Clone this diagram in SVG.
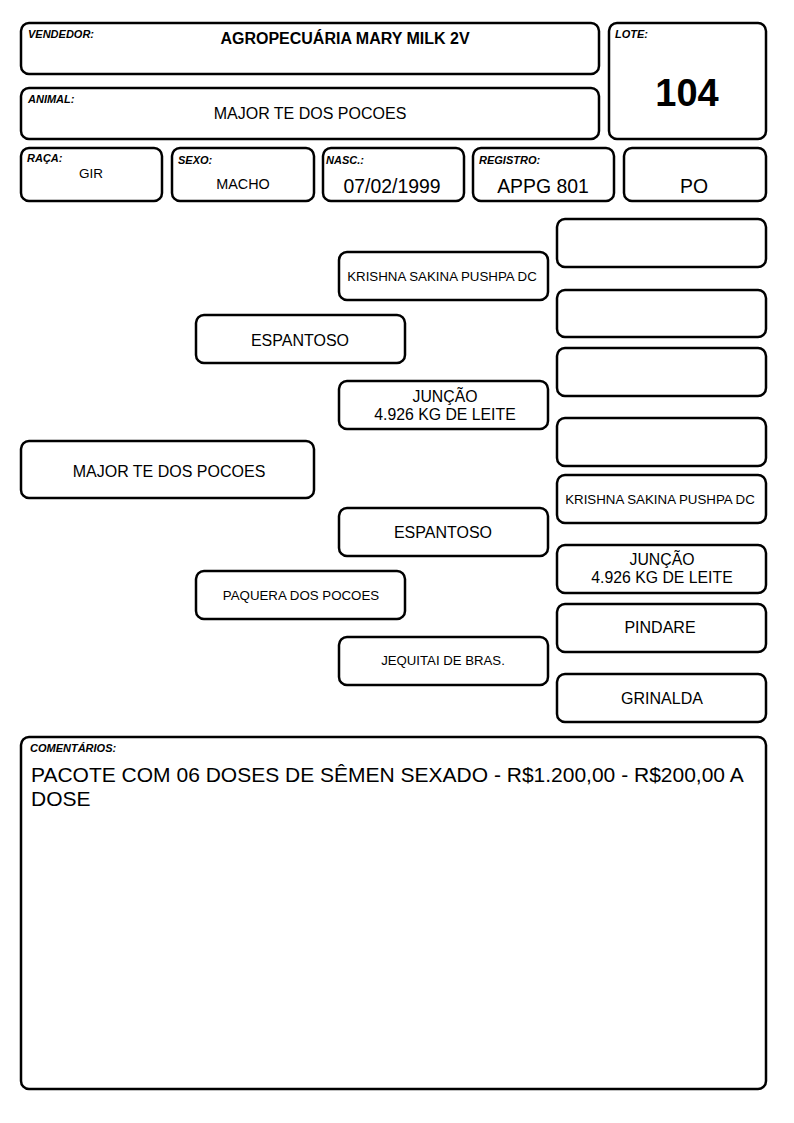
<svg xmlns="http://www.w3.org/2000/svg" width="794" height="1123" viewBox="0 0 794 1123">
<style>
.b{fill:#fff;stroke:#000;stroke-width:2.5}
.lbl{font-family:"Liberation Sans",Arial,sans-serif;font-size:11px;font-weight:bold;font-style:italic;fill:#000}
.v{font-family:"Liberation Sans",Arial,sans-serif;fill:#000;text-anchor:middle}
</style>
<rect width="794" height="1123" fill="#fff"/>
<g id="vendedor"><rect class="b" x="21" y="23" width="578" height="51" rx="8"/><text class="lbl" x="28" y="38">VENDEDOR:</text><text class="v" x="345" y="44" font-size="16" font-weight="bold">AGROPECUÁRIA MARY MILK 2V</text></g>
<g id="animal"><rect class="b" x="21" y="88" width="578" height="51" rx="8"/><text class="lbl" x="28" y="103">ANIMAL:</text><text class="v" x="310" y="119" font-size="16">MAJOR TE DOS POCOES</text></g>
<g id="lote"><rect class="b" x="609" y="23" width="157" height="116" rx="8"/><text class="lbl" x="615" y="38">LOTE:</text><text class="v" x="687" y="106" font-size="38" font-weight="bold">104</text></g>
<g id="raca"><rect class="b" x="21" y="148" width="141" height="53" rx="8"/><text class="lbl" x="27" y="162">RAÇA:</text><text class="v" x="91" y="178" font-size="13.5">GIR</text></g>
<g id="sexo"><rect class="b" x="172" y="148" width="142" height="53" rx="8"/><text class="lbl" x="178" y="164">SEXO:</text><text class="v" x="243" y="189" font-size="14.4">MACHO</text></g>
<g id="nasc"><rect class="b" x="323" y="148" width="141" height="53" rx="8"/><text class="lbl" x="326" y="164">NASC.:</text><text class="v" x="392" y="193" font-size="19.4">07/02/1999</text></g>
<g id="registro"><rect class="b" x="473" y="148" width="141" height="53" rx="8"/><text class="lbl" x="479" y="164">REGISTRO:</text><text class="v" x="543" y="193" font-size="19.4">APPG 801</text></g>
<g id="po"><rect class="b" x="624" y="148" width="142" height="53" rx="8"/><text class="v" x="694" y="193" font-size="19.4">PO</text></g>
<g id="connectors"></g>
<g id="p-major"><rect class="b" x="21" y="441" width="293" height="57" rx="8"/><text class="v" x="169" y="477" font-size="16">MAJOR TE DOS POCOES</text></g>
<g id="p-espantoso1"><rect class="b" x="196" y="315" width="209" height="48" rx="8"/><text class="v" x="300" y="346" font-size="16">ESPANTOSO</text></g>
<g id="p-paquera"><rect class="b" x="196" y="571" width="209" height="48" rx="8"/><text class="v" x="301" y="600" font-size="13.3">PAQUERA DOS POCOES</text></g>
<g id="p-krishna1"><rect class="b" x="339" y="252" width="209" height="48" rx="8"/><text class="v" x="442" y="281" font-size="13.3">KRISHNA SAKINA PUSHPA DC</text></g>
<g id="p-juncao1"><rect class="b" x="339" y="381" width="209" height="48" rx="8"/><text class="v" x="445" y="402" font-size="15.8">JUNÇÃO</text><text class="v" x="445" y="420" font-size="15.8">4.926 KG DE LEITE</text></g>
<g id="p-espantoso2"><rect class="b" x="339" y="508" width="209" height="48" rx="8"/><text class="v" x="443" y="538" font-size="16">ESPANTOSO</text></g>
<g id="p-jequitai"><rect class="b" x="339" y="637" width="209" height="48" rx="8"/><text class="v" x="443" y="665" font-size="13.2">JEQUITAI DE BRAS.</text></g>
<g id="p-r1"><rect class="b" x="557" y="219" width="209" height="48" rx="8"/></g>
<g id="p-r2"><rect class="b" x="557" y="290" width="209" height="47" rx="8"/></g>
<g id="p-r3"><rect class="b" x="557" y="348" width="209" height="48" rx="8"/></g>
<g id="p-r4"><rect class="b" x="557" y="418" width="209" height="48" rx="8"/></g>
<g id="p-krishna2"><rect class="b" x="557" y="475" width="209" height="48" rx="8"/><text class="v" x="660" y="504" font-size="13.3">KRISHNA SAKINA PUSHPA DC</text></g>
<g id="p-juncao2"><rect class="b" x="557" y="545" width="209" height="48" rx="8"/><text class="v" x="662" y="565" font-size="15.8">JUNÇÃO</text><text class="v" x="662" y="583" font-size="15.8">4.926 KG DE LEITE</text></g>
<g id="p-pindare"><rect class="b" x="557" y="604" width="209" height="48" rx="8"/><text class="v" x="660" y="633" font-size="16">PINDARE</text></g>
<g id="p-grinalda"><rect class="b" x="557" y="674" width="209" height="48" rx="8"/><text class="v" x="662" y="704" font-size="16">GRINALDA</text></g>
<g id="comentarios"><rect class="b" x="21" y="737" width="745" height="352" rx="8"/><text class="lbl" x="30" y="752">COMENTÁRIOS:</text><text font-family="'Liberation Sans',Arial,sans-serif" font-size="21" x="31" y="782">PACOTE COM 06 DOSES DE SÊMEN SEXADO - R$1.200,00 - R$200,00 A</text><text font-family="'Liberation Sans',Arial,sans-serif" font-size="21" x="31" y="806">DOSE</text></g>
</svg>
